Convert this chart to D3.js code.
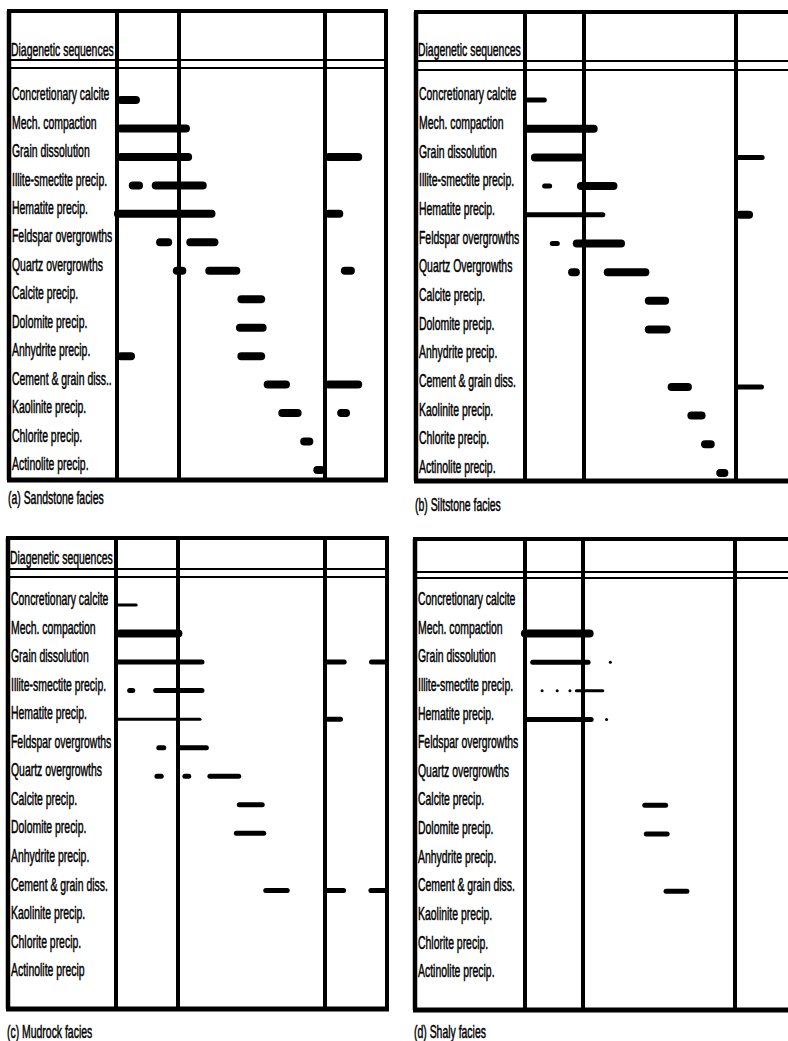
<!DOCTYPE html>
<html>
<head>
<meta charset="utf-8">
<script src="https://cdn.jsdelivr.net/npm/d3@7"></script>
<style>
  html, body { margin: 0; padding: 0; background: #fff; }
  svg { display: block; }
  text { font-family: "Liberation Sans", Arial, sans-serif; fill: #000; }
</style>
</head>
<body>
<svg id="chart" width="788" height="1041"></svg>
<script>
// ---- Diagenetic processes (rows) ----
const processes = [
  "Concretionary calcite", "Mech. compaction", "Grain dissolution",
  "Illite-smectite precip.", "Hematite precip.", "Feldspar overgrowths",
  "Quartz overgrowths", "Calcite precip.", "Dolomite precip.",
  "Anhydrite precip.", "Cement & grain diss.", "Kaolinite precip.",
  "Chlorite precip.", "Actinolite precip."
];

// Row label wording as printed in each facies table
const labelsSandstone = processes.map(p =>
  p === "Cement & grain diss." ? "Cement & grain diss.." : p);
const labelsSiltstone = processes.map(p =>
  p === "Quartz overgrowths" ? "Quartz Overgrowths" : p);
const labelsMudrock = processes.map(p =>
  p === "Actinolite precip." ? "Actinolite precip" : p);
const labelsShaly = processes.slice();

// Stage boundaries on the relative time axis (burial stage units)
const stageBounds = [0, 1, 2, 3];

// Timing of each process: [process, start, end, intensity 1..3]
const sandstone = [
  ["Concretionary calcite", 0.00, 0.37, 3],
  ["Mech. compaction", 0.00, 1.075, 3],
  ["Grain dissolution", 0.00, 1.09, 3],
  ["Grain dissolution", 2.00, 2.61, 3],
  ["Illite-smectite precip.", 0.19, 0.42, 3],
  ["Illite-smectite precip.", 0.56, 1.19, 3],
  ["Hematite precip.", -0.05, 1.25, 3],
  ["Hematite precip.", 2.00, 2.30, 3],
  ["Feldspar overgrowths", 0.63, 0.89, 3],
  ["Feldspar overgrowths", 1.05, 1.27, 3],
  ["Quartz overgrowths", 0.90, 1.05, 3],
  ["Quartz overgrowths", 1.18, 1.42, 3],
  ["Quartz overgrowths", 2.26, 2.49, 3],
  ["Calcite precip.", 1.40, 1.59, 3],
  ["Dolomite precip.", 1.39, 1.60, 3],
  ["Anhydrite precip.", 0.00, 0.29, 3],
  ["Anhydrite precip.", 1.40, 1.59, 3],
  ["Cement & grain diss.", 1.58, 1.76, 3],
  ["Cement & grain diss.", 2.00, 2.61, 3],
  ["Kaolinite precip.", 1.68, 1.84, 3],
  ["Kaolinite precip.", 2.20, 2.41, 3],
  ["Chlorite precip.", 1.83, 1.92, 3],
  ["Actinolite precip.", 1.92, 2.00, 3]
];

const siltstone = [
  ["Concretionary calcite", 0.00, 0.37, 2],
  ["Mech. compaction", -0.03, 1.09, 3],
  ["Grain dissolution", 0.10, 1.00, 3],
  ["Grain dissolution", 2.00, 2.47, 2],
  ["Illite-smectite precip.", 0.29, 0.46, 2],
  ["Illite-smectite precip.", 0.88, 1.22, 3],
  ["Hematite precip.", -0.03, 1.14, 2],
  ["Hematite precip.", 2.00, 2.28, 3],
  ["Feldspar overgrowths", 0.42, 0.59, 2],
  ["Feldspar overgrowths", 0.81, 1.27, 3],
  ["Quartz overgrowths", 0.73, 0.93, 3],
  ["Quartz overgrowths", 1.13, 1.43, 3],
  ["Calcite precip.", 1.40, 1.56, 3],
  ["Dolomite precip.", 1.40, 1.57, 3],
  ["Cement & grain diss.", 1.55, 1.71, 3],
  ["Cement & grain diss.", 2.00, 2.46, 2],
  ["Kaolinite precip.", 1.68, 1.80, 3],
  ["Chlorite precip.", 1.77, 1.86, 3],
  ["Actinolite precip.", 1.87, 1.95, 3]
];

const mudrock = [
  ["Concretionary calcite", 0.00, 0.35, 1],
  ["Mech. compaction", 0.00, 1.03, 3],
  ["Grain dissolution", 0.00, 1.18, 2],
  ["Grain dissolution", 2.00, 2.35, 2],
  ["Grain dissolution", 2.71, 3.00, 2],
  ["Illite-smectite precip.", 0.18, 0.31, 2],
  ["Illite-smectite precip.", 0.60, 1.18, 2],
  ["Hematite precip.", 0.00, 1.16, 1],
  ["Hematite precip.", 2.00, 2.29, 2],
  ["Feldspar overgrowths", 0.65, 0.81, 2],
  ["Feldspar overgrowths", 1.00, 1.21, 2],
  ["Quartz overgrowths", 0.62, 0.77, 2],
  ["Quartz overgrowths", 1.03, 1.09, 2],
  ["Quartz overgrowths", 1.20, 1.43, 2],
  ["Calcite precip.", 1.40, 1.59, 2],
  ["Dolomite precip.", 1.38, 1.60, 2],
  ["Cement & grain diss.", 1.58, 1.76, 2],
  ["Cement & grain diss.", 2.00, 2.34, 2],
  ["Cement & grain diss.", 2.70, 3.00, 2]
];

const shaly = [
  ["Mech. compaction", -0.07, 1.07, 3],
  ["Grain dissolution", 0.09, 1.05, 2],
  ["Grain dissolution", 1.17, 1.19, 1],
  ["Illite-smectite precip.", 0.28, 0.31, 1],
  ["Illite-smectite precip.", 0.54, 0.57, 1],
  ["Illite-smectite precip.", 0.76, 0.79, 1],
  ["Illite-smectite precip.", 0.86, 1.14, 1],
  ["Hematite precip.", -0.03, 1.07, 2],
  ["Hematite precip.", 1.15, 1.16, 1],
  ["Calcite precip.", 1.39, 1.56, 2],
  ["Dolomite precip.", 1.40, 1.57, 2],
  ["Cement & grain diss.", 1.53, 1.70, 2]
];

// ---- Panel layout ----
const panels = [
  { caption: "(a) Sandstone facies", labels: labelsSandstone, data: sandstone, title: true,
    left: 9, top: 11, bottom: 480, cols: [117, 179, 325, 386], rightEdge: true,
    header: [60, 68], rows: [100, 470], titleY: 50, captionY: 498 },
  { caption: "(b) Siltstone facies", labels: labelsSiltstone, data: siltstone, title: true,
    left: 416, top: 12, bottom: 481, cols: [525, 584, 736, 797], rightEdge: false,
    header: [61, 70], rows: [100, 473], titleY: 50, captionY: 505 },
  { caption: "(c) Mudrock facies", labels: labelsMudrock, data: mudrock, title: true,
    left: 8, top: 538, bottom: 1009, cols: [116, 178, 325, 387], rightEdge: true,
    header: [569, 577], rows: [605, 976], titleY: 558, captionY: 1032 },
  { caption: "(d) Shaly facies", labels: labelsShaly, data: shaly, title: false,
    left: 415, top: 539, bottom: 1010, cols: [525, 583, 735, 797], rightEdge: false,
    header: [572, 578], rows: [605, 977], titleY: 0, captionY: 1032 }
];

const weight = d3.scaleOrdinal().domain([1, 2, 3]).range([3, 5, 8]);
const fontSize = 18;
const textScale = 0.58;
const svg = d3.select("#chart");
svg.append("rect").attr("width", 788).attr("height", 1041).attr("fill", "#fff");

function condensedText(g, x, y, str) {
  g.append("text")
    .attr("transform", `translate(${x},${y}) scale(${textScale},1)`)
    .attr("font-size", fontSize)
    .attr("dominant-baseline", "central")
    .attr("stroke", "#000").attr("stroke-width", 0.5)
    .text(str);
}

panels.forEach(p => {
  const g = svg.append("g");
  const x = d3.scaleLinear().domain(stageBounds).range(p.cols);
  const y = d3.scalePoint().domain(processes).range(p.rows);
  const right = p.cols[3];

  // table frame
  const frame = g.append("g").attr("stroke", "#000").attr("fill", "none");
  frame.append("line").attr("x1", p.left - 2).attr("x2", right + 2)
    .attr("y1", p.top).attr("y2", p.top).attr("stroke-width", 4);
  frame.append("line").attr("x1", p.left - 2).attr("x2", right + 2)
    .attr("y1", p.bottom).attr("y2", p.bottom).attr("stroke-width", 5);
  frame.append("line").attr("x1", p.left).attr("x2", p.left)
    .attr("y1", p.top).attr("y2", p.bottom).attr("stroke-width", 4.5);
  if (p.rightEdge) {
    frame.append("line").attr("x1", right).attr("x2", right)
      .attr("y1", p.top).attr("y2", p.bottom).attr("stroke-width", 4);
  }
  stageBounds.slice(0, 3).forEach(s => {
    frame.append("line").attr("x1", x(s)).attr("x2", x(s))
      .attr("y1", p.top).attr("y2", p.bottom).attr("stroke-width", 4);
  });
  p.header.forEach(hy => {
    frame.append("line").attr("x1", p.left).attr("x2", right + 2)
      .attr("y1", hy).attr("y2", hy).attr("stroke-width", 1.8);
  });

  // header and row labels
  if (p.title) condensedText(g, p.left + 2, p.titleY, "Diagenetic sequences");
  processes.forEach((proc, i) => {
    condensedText(g, p.left + 3, y(proc) - 6, p.labels[i]);
  });

  // process timing bars
  g.append("g").selectAll("line").data(p.data).join("line")
    .attr("stroke", "#000")
    .attr("stroke-linecap", "round")
    .attr("stroke-width", d => weight(d[3]))
    .each(function (d) {
      const w = weight(d[3]);
      let x1 = x(d[1]), x2 = x(d[2]);
      const mid = (x1 + x2) / 2;
      if (x2 - x1 > w) { x1 += w / 2; x2 -= w / 2; } else { x1 = mid - 0.01; x2 = mid + 0.01; }
      d3.select(this).attr("x1", x1).attr("x2", x2).attr("y1", y(d[0])).attr("y2", y(d[0]));
    });

  condensedText(g, p.left - 1, p.captionY, p.caption);
});
</script>
</body>
</html>
